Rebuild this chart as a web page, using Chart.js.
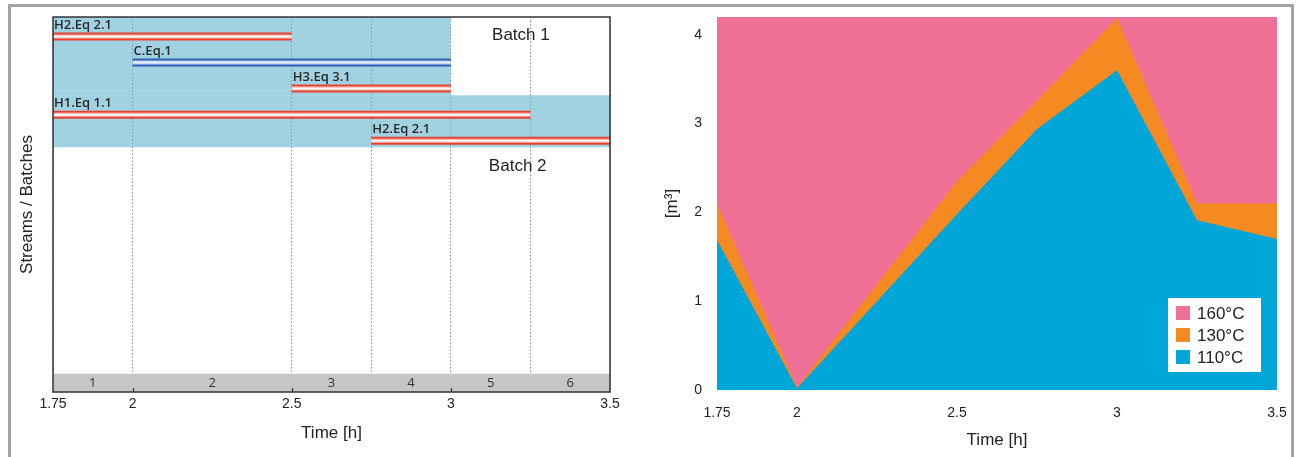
<!DOCTYPE html>
<html>
<head>
<meta charset="utf-8">
<script src="https://cdn.jsdelivr.net/npm/chart.js@4.4.1/dist/chart.umd.min.js"></script>
<style>
body { margin:0; background:#fff; width:1300px; height:457px; overflow:hidden; position:relative; }
#frame { position:absolute; left:8px; top:4px; width:1280px; height:500px; border:3px solid #a3a3a6; }
#streams { position:absolute; left:10px; top:7px; }
#volume { position:absolute; left:650px; top:7px; }
</style>
</head>
<body>
<div id="frame"></div>
<canvas id="streams" width="630" height="450"></canvas>
<canvas id="volume" width="640" height="450"></canvas>
<script>
// left chart: streams and batches over time
var streamNames = ['H2.Eq 2.1', 'C.Eq.1', 'H3.Eq 3.1', 'H1.Eq 1.1', 'H2.Eq 2.1'];
var streamStart = [1.75, 2, 2.5, 1.75, 2.75];
var streamEnd = [2.5, 3, 3, 3.25, 3.5];
var streamRow = [0.75, 1.75, 2.75, 3.75, 4.75];
var streamKind = ['hot', 'cold', 'hot', 'hot', 'hot'];

var batchNames = ['Batch 1', 'Batch 2'];
var batchStart = [1.75, 1.75];
var batchEnd = [3, 3.5];
var batchTop = [0, 3];
var batchBottom = [3, 5];
var batchLabelX = [3.22, 3.21];
var batchLabelY = [0.7, 5.73];

var intervalEdges = [1.75, 2, 2.5, 2.75, 3, 3.25, 3.5];
var intervalNames = ['1', '2', '3', '4', '5', '6'];
var timeTicks = [1.75, 2, 2.5, 3, 3.5];

// right chart: stored volume per temperature level (stacked)
var volTime = [1.75, 2, 2.5, 2.75, 3, 3.25, 3.5];
var vol110 = [1.69, 0.02, 1.98, 2.94, 3.60, 1.91, 1.70];
var vol130 = [0.41, 0.01, 0.37, 0.32, 0.59, 0.19, 0.40];
var vol160 = [2.10, 4.17, 1.85, 0.94, 0.01, 2.10, 2.10];
var volTicks = [0, 1, 2, 3, 4];

var FONT = '"Liberation Sans", Arial, sans-serif';
var LABEL_FONT = '"Open Sans", sans-serif';
var ROW_MAX = 14.4, BAND_TOP = 13.7;

Chart.defaults.font.family = FONT;
Chart.defaults.color = '#222';

var barColors = {
	hot: ['#e8402f', '#f49a8e', '#ffffff'],
	cold: ['#2c5cb3', '#8db3e6', '#f2f7ff']
};

var leftSets = [];
batchNames.forEach(function(name, i) {
	leftSets.push({
		data: [{x: batchStart[i], y: batchTop[i]}, {x: batchEnd[i], y: batchTop[i]}],
		fill: {value: batchBottom[i]},
		backgroundColor: 'rgba(98,180,206,0.6)',
		borderWidth: 0, pointRadius: 0, order: 5
	});
});
// grey interval band at the bottom
leftSets.push({
	data: [{x: intervalEdges[0], y: BAND_TOP}, {x: intervalEdges[intervalEdges.length - 1], y: BAND_TOP}],
	fill: {value: ROW_MAX},
	backgroundColor: '#c6c6c6',
	borderWidth: 0, pointRadius: 0, order: 4
});
// each stream: three stacked strokes give the striped bar
streamNames.forEach(function(name, i) {
	var cols = barColors[streamKind[i]];
	[8, 4.5, 2].forEach(function(w, k) {
		leftSets.push({
			data: [{x: streamStart[i], y: streamRow[i]}, {x: streamEnd[i], y: streamRow[i]}],
			borderColor: cols[k], borderWidth: w, borderCapStyle: 'butt',
			pointRadius: 0, fill: false, order: 3 - k
		});
	});
});

var scheduleText = {
	id: 'scheduleText',
	afterDatasetsDraw: function(chart) {
		var ctx = chart.ctx, x = chart.scales.x, y = chart.scales.y, a = chart.chartArea;
		ctx.save();
		ctx.font = '600 13px ' + LABEL_FONT;
		ctx.fillStyle = '#2a2a2a';
		ctx.textAlign = 'left';
		ctx.textBaseline = 'bottom';
		streamNames.forEach(function(n, i) {
			ctx.fillText(n, x.getPixelForValue(streamStart[i]) + 1, y.getPixelForValue(streamRow[i]) - 5);
		});
		ctx.font = '17px ' + FONT;
		ctx.fillStyle = '#222';
		ctx.textAlign = 'center';
		ctx.textBaseline = 'middle';
		batchNames.forEach(function(n, i) {
			ctx.fillText(n, x.getPixelForValue(batchLabelX[i]), y.getPixelForValue(batchLabelY[i]));
		});
		ctx.font = '13px ' + LABEL_FONT;
		ctx.fillStyle = '#333';
		intervalNames.forEach(function(n, i) {
			var mid = (intervalEdges[i] + intervalEdges[i + 1]) / 2;
			ctx.fillText(n, x.getPixelForValue(mid), y.getPixelForValue((BAND_TOP + ROW_MAX) / 2));
		});
		// plot frame and the small inner ticks
		ctx.strokeStyle = '#333';
		ctx.lineWidth = 1.5;
		ctx.strokeRect(a.left, a.top, a.right - a.left, a.bottom - a.top);
		ctx.lineWidth = 1.2;
		timeTicks.slice(1, -1).forEach(function(v) {
			var px = Math.round(x.getPixelForValue(v)) + 0.5;
			ctx.beginPath();
			ctx.moveTo(px, a.bottom);
			ctx.lineTo(px, a.bottom - 4);
			ctx.stroke();
		});
		ctx.restore();
	}
};

new Chart(document.getElementById('streams'), {
	type: 'line',
	data: {datasets: leftSets},
	options: {
		responsive: false,
		animation: false,
		events: [],
		layout: {padding: {top: 10, right: 30, left: 0, bottom: 0}},
		plugins: {legend: {display: false}, tooltip: {enabled: false}},
		scales: {
			x: {
				type: 'linear', min: 1.75, max: 3.5,
				afterBuildTicks: function(s) { s.ticks = intervalEdges.map(function(v) { return {value: v}; }); },
				afterFit: function(s) { s.height = 65; },
				ticks: {
					autoSkip: false, maxRotation: 0, padding: 4,
					font: {size: 14},
					callback: function(v) { return timeTicks.indexOf(v) >= 0 ? String(v) : ''; }
				},
				grid: {color: '#8a8a8a', lineWidth: 1, drawTicks: false},
				border: {display: false, dash: [1.5, 2]},
				title: {display: true, text: 'Time [h]', font: {size: 17}, padding: {top: 0, bottom: 13}}
			},
			y: {
				type: 'linear', min: 0, max: ROW_MAX, reverse: true,
				afterFit: function(s) { s.width = 43; },
				ticks: {display: false},
				grid: {display: false},
				border: {display: false},
				title: {display: true, text: 'Streams / Batches', font: {size: 17}, padding: {top: 7, bottom: 0}}
			}
		}
	},
	plugins: [scheduleText]
});

// legend box inside the plot, bottom right
var volumeLegend = {
	id: 'volumeLegend',
	afterDraw: function(chart) {
		var ctx = chart.ctx, a = chart.chartArea;
		var w = 93, h = 74;
		var left = a.right - 16 - w, top = a.bottom - 18 - h;
		ctx.save();
		ctx.fillStyle = '#fff';
		ctx.fillRect(left, top, w, h);
		ctx.font = '17px ' + FONT;
		ctx.textBaseline = 'middle';
		ctx.textAlign = 'left';
		var sets = chart.data.datasets.slice().reverse();
		sets.forEach(function(ds, i) {
			var cy = top + 15 + i * 22;
			ctx.fillStyle = ds.backgroundColor;
			ctx.fillRect(left + 8, cy - 7, 14, 14);
			ctx.fillStyle = '#222';
			ctx.fillText(ds.label, left + 29, cy + 1);
		});
		ctx.restore();
	}
};

function volSeries(vals) {
	return vals.map(function(v, i) { return {x: volTime[i], y: v}; });
}

new Chart(document.getElementById('volume'), {
	type: 'line',
	data: {
		datasets: [
			{label: '110°C', data: volSeries(vol110), backgroundColor: '#00a6d8', fill: 'origin', borderWidth: 0, pointRadius: 0},
			{label: '130°C', data: volSeries(vol130), backgroundColor: '#f48a21', fill: 'origin', borderWidth: 0, pointRadius: 0},
			{label: '160°C', data: volSeries(vol160), backgroundColor: '#f17196', fill: 'origin', borderWidth: 0, pointRadius: 0}
		]
	},
	options: {
		responsive: false,
		animation: false,
		events: [],
		layout: {padding: {top: 10, right: 13, left: 0, bottom: 0}},
		plugins: {legend: {display: false}, tooltip: {enabled: false}},
		scales: {
			x: {
				type: 'linear', min: 1.75, max: 3.5,
				afterBuildTicks: function(s) { s.ticks = timeTicks.map(function(v) { return {value: v}; }); },
				afterFit: function(s) { s.height = 67; s.paddingLeft = 0; s.paddingRight = 0; },
				ticks: {
					autoSkip: false, maxRotation: 0, padding: 15, font: {size: 14},
					callback: function(v) { return String(v); }
				},
				grid: {display: false, drawTicks: false},
				border: {display: false},
				title: {display: true, text: 'Time [h]', font: {size: 17}, padding: {top: 0, bottom: 6}}
			},
			y: {
				type: 'linear', min: 0, max: 4.2, stacked: true,
				afterBuildTicks: function(s) { s.ticks = volTicks.map(function(v) { return {value: v}; }); },
				afterFit: function(s) { s.width = 67; s.paddingTop = 0; s.paddingBottom = 0; },
				ticks: {padding: 15, font: {size: 14}},
				grid: {display: false, drawTicks: false},
				border: {display: false},
				title: {display: true, text: '[m³]', font: {size: 17}, padding: {top: 12, bottom: 0}}
			}
		}
	},
	plugins: [volumeLegend]
});
</script>
</body>
</html>
